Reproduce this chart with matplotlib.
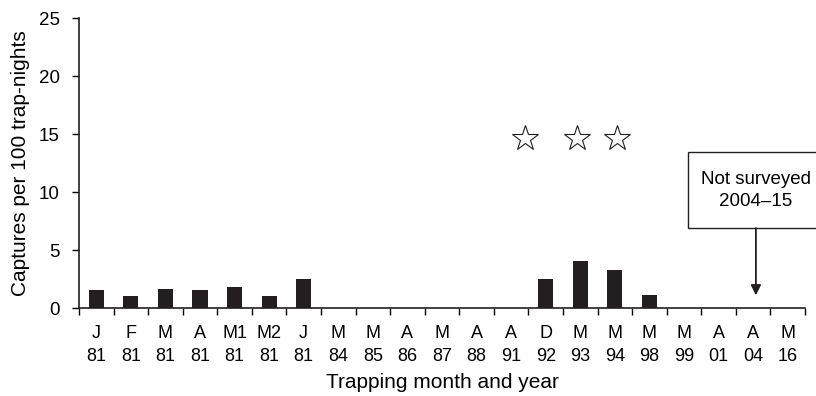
import numpy as np
import matplotlib.pyplot as plt
from matplotlib.patches import Rectangle

plt.rcParams['font.family'] = ['Liberation Sans', 'DejaVu Sans']

months = ['J', 'F', 'M', 'A', 'M1', 'M2', 'J', 'M', 'M', 'A', 'M', 'A', 'A',
          'D', 'M', 'M', 'M', 'M', 'A', 'A', 'M']
years = ['81', '81', '81', '81', '81', '81', '81', '84', '85', '86', '87', '88', '91',
         '92', '93', '94', '98', '99', '01', '04', '16']
captures = [1.55, 1.05, 1.65, 1.55, 1.8, 1.05, 2.5, 0, 0, 0, 0, 0, 0,
            2.5, 4.1, 3.3, 1.1, 0, 0, 0, 0]

# star markers above the 1990s surveys
star_pos = [12.4, 13.9, 15.05]
star_y = 14.7

fig = plt.figure(figsize=(8.16, 3.96), dpi=100)
ax = fig.add_axes([0.0968, 0.222, 0.8897, 0.7323])

x = np.arange(len(captures))
ax.bar(x, captures, width=0.44, color='#231f20')

ax.plot(star_pos, [star_y] * len(star_pos), linestyle='none', marker='*',
        markersize=19, markerfacecolor='white', markeredgecolor='#231f20',
        markeredgewidth=0.8)

ax.set_xlim(-0.5, len(captures) - 0.5)
ax.set_ylim(0, 25)
ax.set_yticks([0, 5, 10, 15, 20, 25])
ax.tick_params(axis='y', labelsize=13.5, direction='out', length=5, width=1, pad=9)

# ticks at category boundaries, labels centered under bars
ax.set_xticks(np.arange(len(captures) + 1) - 0.5)
ax.set_xticklabels([])
ax.tick_params(axis='x', direction='out', length=5, width=1)
ax.set_xticks(x, minor=True)
ax.set_xticklabels([m + '\n' + y for m, y in zip(months, years)], minor=True,
                   fontsize=13, linespacing=1.45)
ax.tick_params(axis='x', which='minor', length=0, pad=12)

for s in ['top', 'right']:
    ax.spines[s].set_visible(False)
for s in ['left', 'bottom']:
    ax.spines[s].set_linewidth(1.2)
    ax.spines[s].set_color('#231f20')

ax.set_ylabel('Captures per 100 trap-nights', fontsize=15, labelpad=6)
ax.set_xlabel('Trapping month and year', fontsize=15, labelpad=6)

# "not surveyed" box with arrow down to A 04
ax.add_patch(Rectangle((17.12, 6.9), 3.93, 6.55, facecolor='white',
                       edgecolor='#231f20', lw=1, clip_on=False, zorder=3))
ax.text(19.08, 10.13, 'Not surveyed\n2004\u201315', ha='center', va='center',
        fontsize=13.5, linespacing=1.4, zorder=4)
ax.annotate('', xy=(19.08, 1.1), xytext=(19.08, 6.9),
            arrowprops=dict(arrowstyle='-|>', color='#231f20', lw=1.3,
                            mutation_scale=15, shrinkA=0, shrinkB=0))

fig.savefig('out.png', dpi=100)
